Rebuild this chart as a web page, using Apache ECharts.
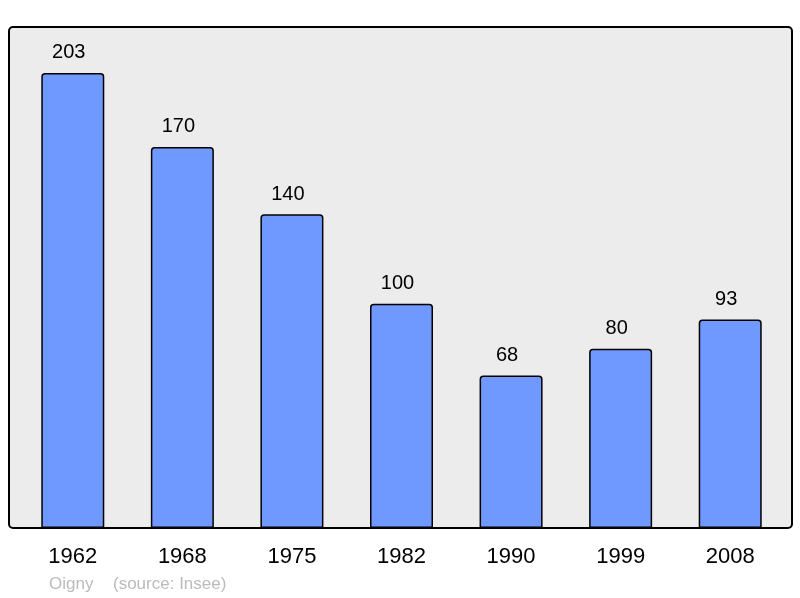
<!DOCTYPE html>
<html>
<head>
    <meta charset="utf-8">
    <title>Oigny</title>
    <script src="https://cdn.jsdelivr.net/npm/echarts@6/dist/echarts.min.js"></script>
    <style>
        body { margin: 0; background: #fff; }
        #main { width: 800px; height: 598px; }
    </style>
</head>
<body>
<div id="main"></div>
<script type="text/javascript">
    var years = ['1962', '1968', '1975', '1982', '1990', '1999', '2008'];
    var population = [203, 170, 140, 100, 68, 80, 93];

    var chart = echarts.init(document.getElementById('main'));

    var option = {
        animation: false,
        textStyle: {fontFamily: 'Liberation Sans, Arial, sans-serif'},
        grid: {left: 18, right: 15, top: 27, bottom: 70},
        graphic: [
            {
                type: 'rect',
                z: 0,
                shape: {x: 9, y: 27, width: 783, height: 501, r: 4},
                style: {fill: '#ececec', stroke: '#000', lineWidth: 2}
            },
            {
                type: 'text',
                left: 49,
                top: 576,
                style: {text: 'Oigny', fill: '#bbbbbb', fontSize: 17, fontFamily: 'Liberation Sans, Arial, sans-serif'}
            },
            {
                type: 'text',
                left: 113,
                top: 576,
                style: {text: '(source: Insee)', fill: '#bbbbbb', fontSize: 17, fontFamily: 'Liberation Sans, Arial, sans-serif'}
            }
        ],
        xAxis: {
            type: 'category',
            data: years,
            axisLine: {show: false},
            axisTick: {show: false},
            axisLabel: {color: '#000', fontSize: 22, margin: 18}
        },
        yAxis: {
            type: 'value',
            min: 0,
            max: 223.5,
            show: false,
            splitLine: {show: false}
        },
        series: [{
            type: 'bar',
            z: 2,
            barWidth: 63,
            data: population,
            itemStyle: {
                color: '#7099ff',
                borderColor: '#000',
                borderWidth: 1.5,
                borderRadius: [3, 3, 0, 0]
            },
            label: {
                show: true,
                position: 'top',
                distance: 10,
                offset: [-4, 0],
                color: '#000',
                fontSize: 20
            }
        }]
    };

    chart.setOption(option);
</script>
</body>
</html>
